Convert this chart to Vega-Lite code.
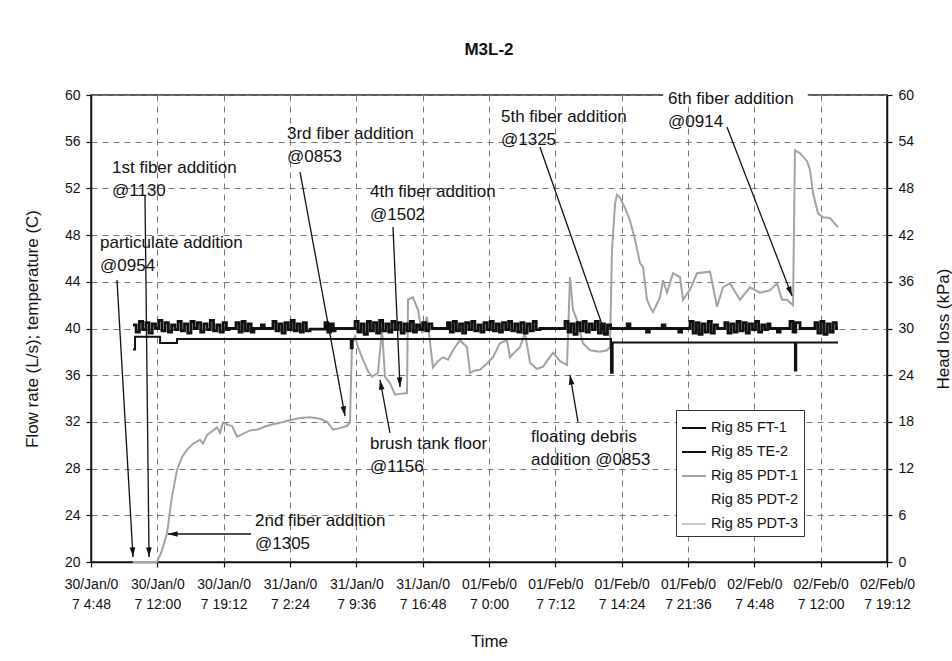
{
  "$schema": "https://vega.github.io/schema/vega-lite/v6.json",
  "width": 796,
  "height": 467,
  "autosize": {"type": "none"},
  "padding": {"left": 91, "top": 95, "right": 65, "bottom": 99},
  "background": "white",
  "title": {"text": "M3L-2", "fontSize": 17, "fontWeight": "bold", "font": "Liberation Sans", "offset": 29, "frame": "group", "anchor": "middle", "color": "#111"},
  "config": {
    "font": "Liberation Sans",
    "view": {"stroke": "#222", "strokeWidth": 1.5},
    "axis": {
      "labelFont": "Liberation Sans", "labelFontSize": 14, "labelColor": "#111",
      "titleFont": "Liberation Sans", "titleFontSize": 17, "titleFontWeight": "normal", "titleColor": "#111",
      "domainColor": "#111", "domainWidth": 1.5, "tickColor": "#111", "tickSize": 5, "tickWidth": 1.2,
      "gridColor": "#777", "gridDash": [6, 5], "gridWidth": 1
    }
  },
  "datasets": {
    "black": [
      {"series": "Rig 85 FT-1", "t": 4.56, "v": 40.3}, {"series": "Rig 85 FT-1", "t": 4.9, "v": 39.7}, {"series": "Rig 85 FT-1", "t": 5.25, "v": 40.6}, {"series": "Rig 85 FT-1", "t": 5.6, "v": 39.9}, {"series": "Rig 85 FT-1", "t": 5.95, "v": 40.5}, {"series": "Rig 85 FT-1", "t": 6.3, "v": 39.6}, {"series": "Rig 85 FT-1", "t": 6.65, "v": 40.4}, {"series": "Rig 85 FT-1", "t": 7.0, "v": 40.0}, {"series": "Rig 85 FT-1", "t": 7.35, "v": 40.7}, {"series": "Rig 85 FT-1", "t": 7.7, "v": 39.8},
      {"series": "Rig 85 FT-1", "t": 8.05, "v": 40.5}, {"series": "Rig 85 FT-1", "t": 8.4, "v": 39.7}, {"series": "Rig 85 FT-1", "t": 8.75, "v": 40.3}, {"series": "Rig 85 FT-1", "t": 9.1, "v": 39.9}, {"series": "Rig 85 FT-1", "t": 9.45, "v": 40.6}, {"series": "Rig 85 FT-1", "t": 9.8, "v": 39.8}, {"series": "Rig 85 FT-1", "t": 10.15, "v": 40.4}, {"series": "Rig 85 FT-1", "t": 10.5, "v": 39.6}, {"series": "Rig 85 FT-1", "t": 10.85, "v": 40.6}, {"series": "Rig 85 FT-1", "t": 11.2, "v": 40.0},
      {"series": "Rig 85 FT-1", "t": 11.55, "v": 40.5}, {"series": "Rig 85 FT-1", "t": 11.9, "v": 39.7}, {"series": "Rig 85 FT-1", "t": 12.25, "v": 40.4}, {"series": "Rig 85 FT-1", "t": 12.6, "v": 39.9}, {"series": "Rig 85 FT-1", "t": 12.95, "v": 40.7}, {"series": "Rig 85 FT-1", "t": 13.3, "v": 39.8}, {"series": "Rig 85 FT-1", "t": 13.65, "v": 40.3}, {"series": "Rig 85 FT-1", "t": 14.0, "v": 39.7}, {"series": "Rig 85 FT-1", "t": 14.35, "v": 40.5}, {"series": "Rig 85 FT-1", "t": 14.7, "v": 39.9},
      {"series": "Rig 85 FT-1", "t": 14.98, "v": 40.0}, {"series": "Rig 85 FT-1", "t": 15.74, "v": 40.5}, {"series": "Rig 85 FT-1", "t": 16.07, "v": 39.7}, {"series": "Rig 85 FT-1", "t": 16.4, "v": 40.6}, {"series": "Rig 85 FT-1", "t": 16.73, "v": 39.8}, {"series": "Rig 85 FT-1", "t": 17.06, "v": 40.4}, {"series": "Rig 85 FT-1", "t": 17.39, "v": 39.7}, {"series": "Rig 85 FT-1", "t": 17.69, "v": 40.0}, {"series": "Rig 85 FT-1", "t": 18.5, "v": 40.3}, {"series": "Rig 85 FT-1", "t": 18.8, "v": 40.0},
      {"series": "Rig 85 FT-1", "t": 19.75, "v": 40.6}, {"series": "Rig 85 FT-1", "t": 20.08, "v": 39.8}, {"series": "Rig 85 FT-1", "t": 20.41, "v": 40.4}, {"series": "Rig 85 FT-1", "t": 20.74, "v": 39.6}, {"series": "Rig 85 FT-1", "t": 21.07, "v": 40.5}, {"series": "Rig 85 FT-1", "t": 21.4, "v": 39.9}, {"series": "Rig 85 FT-1", "t": 21.73, "v": 40.7}, {"series": "Rig 85 FT-1", "t": 22.06, "v": 39.8}, {"series": "Rig 85 FT-1", "t": 22.39, "v": 40.4}, {"series": "Rig 85 FT-1", "t": 22.72, "v": 39.7},
      {"series": "Rig 85 FT-1", "t": 23.05, "v": 40.5}, {"series": "Rig 85 FT-1", "t": 23.38, "v": 39.8}, {"series": "Rig 85 FT-1", "t": 23.77, "v": 39.95}, {"series": "Rig 85 FT-1", "t": 25.4, "v": 40.5}, {"series": "Rig 85 FT-1", "t": 25.7, "v": 39.7}, {"series": "Rig 85 FT-1", "t": 26.0, "v": 40.4}, {"series": "Rig 85 FT-1", "t": 26.3, "v": 39.8}, {"series": "Rig 85 FT-1", "t": 26.5, "v": 40.0}, {"series": "Rig 85 FT-1", "t": 28.66, "v": 40.6}, {"series": "Rig 85 FT-1", "t": 29.0, "v": 39.7},
      {"series": "Rig 85 FT-1", "t": 29.33, "v": 40.4}, {"series": "Rig 85 FT-1", "t": 29.66, "v": 39.5}, {"series": "Rig 85 FT-1", "t": 30.0, "v": 40.6}, {"series": "Rig 85 FT-1", "t": 30.33, "v": 39.8}, {"series": "Rig 85 FT-1", "t": 30.66, "v": 40.5}, {"series": "Rig 85 FT-1", "t": 31.0, "v": 39.6}, {"series": "Rig 85 FT-1", "t": 31.33, "v": 40.7}, {"series": "Rig 85 FT-1", "t": 31.66, "v": 39.8}, {"series": "Rig 85 FT-1", "t": 32.0, "v": 40.4}, {"series": "Rig 85 FT-1", "t": 32.33, "v": 39.7},
      {"series": "Rig 85 FT-1", "t": 32.66, "v": 40.6}, {"series": "Rig 85 FT-1", "t": 33.0, "v": 39.9}, {"series": "Rig 85 FT-1", "t": 33.33, "v": 40.5}, {"series": "Rig 85 FT-1", "t": 33.66, "v": 39.6}, {"series": "Rig 85 FT-1", "t": 34.0, "v": 40.4}, {"series": "Rig 85 FT-1", "t": 34.33, "v": 39.8}, {"series": "Rig 85 FT-1", "t": 34.66, "v": 40.6}, {"series": "Rig 85 FT-1", "t": 35.0, "v": 39.7}, {"series": "Rig 85 FT-1", "t": 35.33, "v": 40.3}, {"series": "Rig 85 FT-1", "t": 35.66, "v": 39.9},
      {"series": "Rig 85 FT-1", "t": 36.0, "v": 40.5}, {"series": "Rig 85 FT-1", "t": 36.33, "v": 39.8}, {"series": "Rig 85 FT-1", "t": 36.66, "v": 40.4}, {"series": "Rig 85 FT-1", "t": 37.0, "v": 40.0}, {"series": "Rig 85 FT-1", "t": 38.7, "v": 40.5}, {"series": "Rig 85 FT-1", "t": 39.0, "v": 39.7}, {"series": "Rig 85 FT-1", "t": 39.33, "v": 40.6}, {"series": "Rig 85 FT-1", "t": 39.66, "v": 39.8}, {"series": "Rig 85 FT-1", "t": 40.0, "v": 40.4}, {"series": "Rig 85 FT-1", "t": 40.33, "v": 39.6},
      {"series": "Rig 85 FT-1", "t": 40.66, "v": 40.5}, {"series": "Rig 85 FT-1", "t": 41.0, "v": 39.9}, {"series": "Rig 85 FT-1", "t": 41.33, "v": 40.6}, {"series": "Rig 85 FT-1", "t": 41.66, "v": 39.8}, {"series": "Rig 85 FT-1", "t": 42.0, "v": 40.3}, {"series": "Rig 85 FT-1", "t": 42.33, "v": 39.7}, {"series": "Rig 85 FT-1", "t": 42.66, "v": 40.5}, {"series": "Rig 85 FT-1", "t": 43.0, "v": 39.9}, {"series": "Rig 85 FT-1", "t": 43.33, "v": 40.6}, {"series": "Rig 85 FT-1", "t": 43.66, "v": 39.8},
      {"series": "Rig 85 FT-1", "t": 44.0, "v": 40.4}, {"series": "Rig 85 FT-1", "t": 44.33, "v": 39.7}, {"series": "Rig 85 FT-1", "t": 44.66, "v": 40.5}, {"series": "Rig 85 FT-1", "t": 45.0, "v": 39.9}, {"series": "Rig 85 FT-1", "t": 45.33, "v": 40.6}, {"series": "Rig 85 FT-1", "t": 45.66, "v": 39.8}, {"series": "Rig 85 FT-1", "t": 46.0, "v": 40.4}, {"series": "Rig 85 FT-1", "t": 46.33, "v": 39.7}, {"series": "Rig 85 FT-1", "t": 46.66, "v": 40.5}, {"series": "Rig 85 FT-1", "t": 47.0, "v": 39.6},
      {"series": "Rig 85 FT-1", "t": 47.33, "v": 40.4}, {"series": "Rig 85 FT-1", "t": 47.66, "v": 39.8}, {"series": "Rig 85 FT-1", "t": 48.0, "v": 40.6}, {"series": "Rig 85 FT-1", "t": 48.33, "v": 39.9}, {"series": "Rig 85 FT-1", "t": 48.74, "v": 40.0}, {"series": "Rig 85 FT-1", "t": 51.45, "v": 40.6}, {"series": "Rig 85 FT-1", "t": 51.78, "v": 39.7}, {"series": "Rig 85 FT-1", "t": 52.1, "v": 40.4}, {"series": "Rig 85 FT-1", "t": 52.43, "v": 39.5}, {"series": "Rig 85 FT-1", "t": 52.76, "v": 40.5},
      {"series": "Rig 85 FT-1", "t": 53.09, "v": 39.8}, {"series": "Rig 85 FT-1", "t": 53.42, "v": 40.6}, {"series": "Rig 85 FT-1", "t": 53.75, "v": 39.7}, {"series": "Rig 85 FT-1", "t": 54.08, "v": 40.4}, {"series": "Rig 85 FT-1", "t": 54.41, "v": 39.9}, {"series": "Rig 85 FT-1", "t": 54.74, "v": 40.6}, {"series": "Rig 85 FT-1", "t": 55.07, "v": 39.6}, {"series": "Rig 85 FT-1", "t": 55.4, "v": 40.4}, {"series": "Rig 85 FT-1", "t": 55.73, "v": 39.5}, {"series": "Rig 85 FT-1", "t": 56.06, "v": 40.3},
      {"series": "Rig 85 FT-1", "t": 56.4, "v": 40.0}, {"series": "Rig 85 FT-1", "t": 58.2, "v": 40.4}, {"series": "Rig 85 FT-1", "t": 58.5, "v": 40.0}, {"series": "Rig 85 FT-1", "t": 60.3, "v": 39.7}, {"series": "Rig 85 FT-1", "t": 60.6, "v": 40.0}, {"series": "Rig 85 FT-1", "t": 62.0, "v": 40.3}, {"series": "Rig 85 FT-1", "t": 62.3, "v": 40.0}, {"series": "Rig 85 FT-1", "t": 63.8, "v": 39.7}, {"series": "Rig 85 FT-1", "t": 64.1, "v": 40.0}, {"series": "Rig 85 FT-1", "t": 65.02, "v": 40.6},
      {"series": "Rig 85 FT-1", "t": 65.35, "v": 39.6}, {"series": "Rig 85 FT-1", "t": 65.68, "v": 40.5}, {"series": "Rig 85 FT-1", "t": 66.0, "v": 39.5}, {"series": "Rig 85 FT-1", "t": 66.33, "v": 40.4}, {"series": "Rig 85 FT-1", "t": 66.66, "v": 39.7}, {"series": "Rig 85 FT-1", "t": 67.0, "v": 40.6}, {"series": "Rig 85 FT-1", "t": 67.33, "v": 39.6}, {"series": "Rig 85 FT-1", "t": 67.66, "v": 40.3}, {"series": "Rig 85 FT-1", "t": 68.0, "v": 40.0}, {"series": "Rig 85 FT-1", "t": 68.8, "v": 40.5},
      {"series": "Rig 85 FT-1", "t": 69.13, "v": 39.6}, {"series": "Rig 85 FT-1", "t": 69.46, "v": 40.4}, {"series": "Rig 85 FT-1", "t": 69.8, "v": 39.7}, {"series": "Rig 85 FT-1", "t": 70.13, "v": 40.6}, {"series": "Rig 85 FT-1", "t": 70.46, "v": 39.8}, {"series": "Rig 85 FT-1", "t": 70.8, "v": 40.5}, {"series": "Rig 85 FT-1", "t": 71.13, "v": 39.6}, {"series": "Rig 85 FT-1", "t": 71.46, "v": 40.4}, {"series": "Rig 85 FT-1", "t": 71.8, "v": 39.9}, {"series": "Rig 85 FT-1", "t": 72.13, "v": 40.6},
      {"series": "Rig 85 FT-1", "t": 72.46, "v": 39.7}, {"series": "Rig 85 FT-1", "t": 72.8, "v": 40.3}, {"series": "Rig 85 FT-1", "t": 73.13, "v": 39.9}, {"series": "Rig 85 FT-1", "t": 73.46, "v": 40.4}, {"series": "Rig 85 FT-1", "t": 73.7, "v": 40.0}, {"series": "Rig 85 FT-1", "t": 74.5, "v": 39.7}, {"series": "Rig 85 FT-1", "t": 74.8, "v": 40.0}, {"series": "Rig 85 FT-1", "t": 75.87, "v": 40.6}, {"series": "Rig 85 FT-1", "t": 76.2, "v": 39.7}, {"series": "Rig 85 FT-1", "t": 76.5, "v": 40.5},
      {"series": "Rig 85 FT-1", "t": 76.96, "v": 40.0}, {"series": "Rig 85 FT-1", "t": 78.58, "v": 40.5}, {"series": "Rig 85 FT-1", "t": 78.9, "v": 39.6}, {"series": "Rig 85 FT-1", "t": 79.23, "v": 40.6}, {"series": "Rig 85 FT-1", "t": 79.56, "v": 39.5}, {"series": "Rig 85 FT-1", "t": 79.9, "v": 40.4}, {"series": "Rig 85 FT-1", "t": 80.23, "v": 39.7}, {"series": "Rig 85 FT-1", "t": 80.56, "v": 40.5}, {"series": "Rig 85 FT-1", "t": 80.9, "v": 40.0}, {"series": "Rig 85 FT-1", "t": 81.08, "v": 40.0},
      {"series": "Rig 85 TE-2", "t": 4.56, "v": 38.2}, {"series": "Rig 85 TE-2", "t": 4.78, "v": 39.3}, {"series": "Rig 85 TE-2", "t": 7.5, "v": 38.75}, {"series": "Rig 85 TE-2", "t": 9.34, "v": 39.1}, {"series": "Rig 85 TE-2", "t": 28.2, "v": 38.3}, {"series": "Rig 85 TE-2", "t": 28.4, "v": 39.1}, {"series": "Rig 85 TE-2", "t": 56.44, "v": 36.2}, {"series": "Rig 85 TE-2", "t": 56.62, "v": 38.8}, {"series": "Rig 85 TE-2", "t": 76.41, "v": 36.4}, {"series": "Rig 85 TE-2", "t": 76.55, "v": 38.8}, {"series": "Rig 85 TE-2", "t": 81.08, "v": 38.8}
    ],
    "gray": [
      {"series": "Rig 85 PDT-3", "t": 4.56, "kpa": 0}, {"series": "Rig 85 PDT-3", "t": 7.16, "kpa": 0},
      {"series": "Rig 85 PDT-1", "t": 4.56, "kpa": 0}, {"series": "Rig 85 PDT-1", "t": 7.16, "kpa": 0}, {"series": "Rig 85 PDT-1", "t": 7.71, "kpa": 1.5}, {"series": "Rig 85 PDT-1", "t": 8.25, "kpa": 3.7}, {"series": "Rig 85 PDT-1", "t": 8.79, "kpa": 8.4}, {"series": "Rig 85 PDT-1", "t": 9.33, "kpa": 11.8}, {"series": "Rig 85 PDT-1", "t": 9.88, "kpa": 13.5}, {"series": "Rig 85 PDT-1", "t": 10.42, "kpa": 14.4}, {"series": "Rig 85 PDT-1", "t": 11.07, "kpa": 15.2}, {"series": "Rig 85 PDT-1", "t": 11.83, "kpa": 15.7},
      {"series": "Rig 85 PDT-1", "t": 12.16, "kpa": 15.2}, {"series": "Rig 85 PDT-1", "t": 12.59, "kpa": 16.3}, {"series": "Rig 85 PDT-1", "t": 13.13, "kpa": 16.8}, {"series": "Rig 85 PDT-1", "t": 13.68, "kpa": 17.3}, {"series": "Rig 85 PDT-1", "t": 14.0, "kpa": 16.6}, {"series": "Rig 85 PDT-1", "t": 14.33, "kpa": 17.9}, {"series": "Rig 85 PDT-1", "t": 14.87, "kpa": 17.6}, {"series": "Rig 85 PDT-1", "t": 15.3, "kpa": 17.5}, {"series": "Rig 85 PDT-1", "t": 15.85, "kpa": 16.1}, {"series": "Rig 85 PDT-1", "t": 16.39, "kpa": 16.4},
      {"series": "Rig 85 PDT-1", "t": 17.26, "kpa": 16.9}, {"series": "Rig 85 PDT-1", "t": 18.02, "kpa": 17.0}, {"series": "Rig 85 PDT-1", "t": 18.89, "kpa": 17.4}, {"series": "Rig 85 PDT-1", "t": 19.75, "kpa": 17.7}, {"series": "Rig 85 PDT-1", "t": 20.51, "kpa": 17.9}, {"series": "Rig 85 PDT-1", "t": 21.6, "kpa": 18.2}, {"series": "Rig 85 PDT-1", "t": 22.69, "kpa": 18.5}, {"series": "Rig 85 PDT-1", "t": 23.77, "kpa": 18.6}, {"series": "Rig 85 PDT-1", "t": 24.86, "kpa": 18.4}, {"series": "Rig 85 PDT-1", "t": 25.62, "kpa": 18.0},
      {"series": "Rig 85 PDT-1", "t": 26.27, "kpa": 17.0}, {"series": "Rig 85 PDT-1", "t": 27.03, "kpa": 17.2}, {"series": "Rig 85 PDT-1", "t": 27.79, "kpa": 17.5}, {"series": "Rig 85 PDT-1", "t": 28.11, "kpa": 17.9}, {"series": "Rig 85 PDT-1", "t": 28.33, "kpa": 28.0}, {"series": "Rig 85 PDT-1", "t": 28.66, "kpa": 29.0}, {"series": "Rig 85 PDT-1", "t": 28.98, "kpa": 27.6}, {"series": "Rig 85 PDT-1", "t": 29.52, "kpa": 26.0}, {"series": "Rig 85 PDT-1", "t": 30.07, "kpa": 24.5}, {"series": "Rig 85 PDT-1", "t": 30.5, "kpa": 23.8},
      {"series": "Rig 85 PDT-1", "t": 31.15, "kpa": 24.3}, {"series": "Rig 85 PDT-1", "t": 31.59, "kpa": 29.8}, {"series": "Rig 85 PDT-1", "t": 31.91, "kpa": 23.8}, {"series": "Rig 85 PDT-1", "t": 32.45, "kpa": 23.0}, {"series": "Rig 85 PDT-1", "t": 33.0, "kpa": 21.5}, {"series": "Rig 85 PDT-1", "t": 33.54, "kpa": 21.6}, {"series": "Rig 85 PDT-1", "t": 34.3, "kpa": 21.7}, {"series": "Rig 85 PDT-1", "t": 34.41, "kpa": 33.7}, {"series": "Rig 85 PDT-1", "t": 34.95, "kpa": 34.0}, {"series": "Rig 85 PDT-1", "t": 35.49, "kpa": 32.4},
      {"series": "Rig 85 PDT-1", "t": 35.93, "kpa": 29.4}, {"series": "Rig 85 PDT-1", "t": 36.47, "kpa": 31.5}, {"series": "Rig 85 PDT-1", "t": 37.12, "kpa": 25.0}, {"series": "Rig 85 PDT-1", "t": 37.66, "kpa": 25.8}, {"series": "Rig 85 PDT-1", "t": 38.21, "kpa": 26.3}, {"series": "Rig 85 PDT-1", "t": 38.75, "kpa": 26.0}, {"series": "Rig 85 PDT-1", "t": 39.29, "kpa": 27.2}, {"series": "Rig 85 PDT-1", "t": 40.05, "kpa": 28.5}, {"series": "Rig 85 PDT-1", "t": 40.81, "kpa": 27.6}, {"series": "Rig 85 PDT-1", "t": 41.14, "kpa": 24.3},
      {"series": "Rig 85 PDT-1", "t": 41.68, "kpa": 24.6}, {"series": "Rig 85 PDT-1", "t": 42.22, "kpa": 24.7}, {"series": "Rig 85 PDT-1", "t": 42.98, "kpa": 25.5}, {"series": "Rig 85 PDT-1", "t": 43.63, "kpa": 26.3}, {"series": "Rig 85 PDT-1", "t": 44.39, "kpa": 28.1}, {"series": "Rig 85 PDT-1", "t": 45.15, "kpa": 28.5}, {"series": "Rig 85 PDT-1", "t": 45.48, "kpa": 26.3}, {"series": "Rig 85 PDT-1", "t": 46.02, "kpa": 27.0}, {"series": "Rig 85 PDT-1", "t": 46.56, "kpa": 27.6}, {"series": "Rig 85 PDT-1", "t": 47.11, "kpa": 29.4},
      {"series": "Rig 85 PDT-1", "t": 47.65, "kpa": 25.6}, {"series": "Rig 85 PDT-1", "t": 48.41, "kpa": 24.8}, {"series": "Rig 85 PDT-1", "t": 49.06, "kpa": 25.1}, {"series": "Rig 85 PDT-1", "t": 49.6, "kpa": 26.0}, {"series": "Rig 85 PDT-1", "t": 50.15, "kpa": 26.9}, {"series": "Rig 85 PDT-1", "t": 50.91, "kpa": 25.8}, {"series": "Rig 85 PDT-1", "t": 51.67, "kpa": 25.3}, {"series": "Rig 85 PDT-1", "t": 51.99, "kpa": 36.6}, {"series": "Rig 85 PDT-1", "t": 52.32, "kpa": 32.4}, {"series": "Rig 85 PDT-1", "t": 52.75, "kpa": 31.1},
      {"series": "Rig 85 PDT-1", "t": 53.4, "kpa": 28.1}, {"series": "Rig 85 PDT-1", "t": 54.16, "kpa": 27.2}, {"series": "Rig 85 PDT-1", "t": 55.25, "kpa": 27.0}, {"series": "Rig 85 PDT-1", "t": 56.01, "kpa": 27.2}, {"series": "Rig 85 PDT-1", "t": 56.33, "kpa": 27.6}, {"series": "Rig 85 PDT-1", "t": 56.55, "kpa": 40.0}, {"series": "Rig 85 PDT-1", "t": 56.88, "kpa": 46.0}, {"series": "Rig 85 PDT-1", "t": 57.09, "kpa": 47.2}, {"series": "Rig 85 PDT-1", "t": 57.42, "kpa": 46.8}, {"series": "Rig 85 PDT-1", "t": 57.96, "kpa": 45.5},
      {"series": "Rig 85 PDT-1", "t": 58.5, "kpa": 43.9}, {"series": "Rig 85 PDT-1", "t": 59.05, "kpa": 41.4}, {"series": "Rig 85 PDT-1", "t": 59.59, "kpa": 38.4}, {"series": "Rig 85 PDT-1", "t": 59.92, "kpa": 37.9}, {"series": "Rig 85 PDT-1", "t": 60.35, "kpa": 33.7}, {"series": "Rig 85 PDT-1", "t": 60.68, "kpa": 32.8}, {"series": "Rig 85 PDT-1", "t": 61.0, "kpa": 32.1}, {"series": "Rig 85 PDT-1", "t": 61.76, "kpa": 34.0}, {"series": "Rig 85 PDT-1", "t": 62.09, "kpa": 36.2}, {"series": "Rig 85 PDT-1", "t": 62.52, "kpa": 34.6},
      {"series": "Rig 85 PDT-1", "t": 63.17, "kpa": 37.1}, {"series": "Rig 85 PDT-1", "t": 63.93, "kpa": 36.6}, {"series": "Rig 85 PDT-1", "t": 64.26, "kpa": 33.7}, {"series": "Rig 85 PDT-1", "t": 65.02, "kpa": 35.0}, {"series": "Rig 85 PDT-1", "t": 65.78, "kpa": 37.1}, {"series": "Rig 85 PDT-1", "t": 67.19, "kpa": 37.3}, {"series": "Rig 85 PDT-1", "t": 67.95, "kpa": 32.8}, {"series": "Rig 85 PDT-1", "t": 68.6, "kpa": 35.3}, {"series": "Rig 85 PDT-1", "t": 69.36, "kpa": 35.8}, {"series": "Rig 85 PDT-1", "t": 70.44, "kpa": 33.7},
      {"series": "Rig 85 PDT-1", "t": 71.53, "kpa": 35.3}, {"series": "Rig 85 PDT-1", "t": 72.61, "kpa": 34.6}, {"series": "Rig 85 PDT-1", "t": 73.7, "kpa": 34.9}, {"series": "Rig 85 PDT-1", "t": 74.46, "kpa": 35.8}, {"series": "Rig 85 PDT-1", "t": 75.0, "kpa": 33.7}, {"series": "Rig 85 PDT-1", "t": 75.55, "kpa": 33.7}, {"series": "Rig 85 PDT-1", "t": 76.2, "kpa": 33.0}, {"series": "Rig 85 PDT-1", "t": 76.41, "kpa": 52.9}, {"series": "Rig 85 PDT-1", "t": 76.96, "kpa": 52.5}, {"series": "Rig 85 PDT-1", "t": 77.72, "kpa": 51.5},
      {"series": "Rig 85 PDT-1", "t": 78.04, "kpa": 50.4}, {"series": "Rig 85 PDT-1", "t": 78.37, "kpa": 47.4}, {"series": "Rig 85 PDT-1", "t": 78.91, "kpa": 44.8}, {"series": "Rig 85 PDT-1", "t": 79.45, "kpa": 44.3}, {"series": "Rig 85 PDT-1", "t": 80.21, "kpa": 44.2}, {"series": "Rig 85 PDT-1", "t": 80.65, "kpa": 43.6}, {"series": "Rig 85 PDT-1", "t": 81.08, "kpa": 43.0}
    ],
    "notes": [
      {"label": "particulate addition\n@0954", "t": 0.98, "v": 46.89},
      {"label": "1st fiber addition\n@1130", "t": 2.28, "v": 53.32},
      {"label": "2nd fiber addition\n@1305", "t": 17.8, "v": 23.08},
      {"label": "3rd fiber addition\n@0853", "t": 21.27, "v": 56.23},
      {"label": "4th fiber addition\n@1502", "t": 30.28, "v": 51.26},
      {"label": "brush tank floor\n@1156", "t": 30.28, "v": 29.68},
      {"label": "5th fiber addition\n@1325", "t": 44.5, "v": 57.69},
      {"label": "floating debris\naddition @0853", "t": 47.76, "v": 30.28},
      {"label": "6th fiber addition\n@0914", "t": 62.63, "v": 59.23}
    ],
    "arrows": [
      {"t": 2.82, "v": 44.15, "t2": 4.56, "v2": 20.43},
      {"t": 5.86, "v": 51.43, "t2": 6.3, "v2": 20.43},
      {"t": 17.37, "v": 22.4, "t2": 8.36, "v2": 22.4},
      {"t": 22.69, "v": 53.4, "t2": 27.57, "v2": 32.51},
      {"t": 32.78, "v": 48.69, "t2": 33.54, "v2": 34.99},
      {"t": 32.45, "v": 31.05, "t2": 31.37, "v2": 35.59},
      {"t": 48.73, "v": 55.55, "t2": 55.79, "v2": 39.61},
      {"t": 52.86, "v": 32.0, "t2": 51.99, "v2": 36.02},
      {"t": 69.03, "v": 57.26, "t2": 76.09, "v2": 42.78}
    ],
    "mask": [{"t": 62.1, "t2": 77.8, "v": 59.45, "v2": 60.5}]
  },
  "layer": [
    {
      "layer": [
        {
          "data": {"name": "gray"},
          "mark": {"type": "line", "strokeWidth": 2},
          "encoding": {
            "x": {"field": "t", "type": "quantitative", "title": "Time"},
            "y": {"field": "kpa", "type": "quantitative", "scale": {"domain": [0, 60], "nice": false, "zero": false},
              "axis": {"orient": "right", "values": [0, 6, 12, 18, 24, 30, 36, 42, 48, 54, 60], "grid": false, "labelPadding": 6,
                "title": "Head loss (kPa)", "titleAngle": 270, "titleX": 56, "titleY": 233.5, "titleBaseline": "middle", "titleAnchor": "middle"}},
            "color": {"field": "series", "type": "nominal",
              "scale": {"domain": ["Rig 85 FT-1", "Rig 85 TE-2", "Rig 85 PDT-1", "Rig 85 PDT-2", "Rig 85 PDT-3"], "range": ["#111111", "#111111", "#a2a2a2", "#ffffff", "#c6c6c6"]},
              "legend": {"title": null, "orient": "none", "legendX": 585, "legendY": 315, "fillColor": "white", "strokeColor": "#333", "padding": 5,
                "symbolType": "stroke", "symbolSize": 576, "symbolStrokeWidth": 2, "labelFontSize": 14.5, "labelFont": "Liberation Sans", "labelColor": "#111", "labelOffset": 4, "rowPadding": 4}}
          }
        }
      ]
    },
    {
      "layer": [
        {
          "data": {"name": "black"},
          "mark": {"type": "line", "interpolate": "step-after"},
          "encoding": {
            "x": {"field": "t", "type": "quantitative", "title": "Time", "scale": {"domain": [0, 86.4], "nice": false, "zero": false},
              "axis": {"values": [0, 7.2, 14.4, 21.6, 28.8, 36, 43.2, 50.4, 57.6, 64.8, 72, 79.2, 86.4],
                "labelExpr": "[timeFormat(time(datetime(2007,0,30,4,48)) + round(datum.value*60)*60000, '%d/%b/0'), '7 ' + timeFormat(time(datetime(2007,0,30,4,48)) + round(datum.value*60)*60000, '%-H:%M')]",
                "labelLineHeight": 20, "labelPadding": 10, "labelBaseline": "top", "labelOverlap": false, "labelFlush": false,
                "grid": true, "title": "Time", "titleX": 398, "titleY": 84, "titleBaseline": "alphabetic", "orient": "bottom"}},
            "y": {"field": "v", "type": "quantitative", "title": "Flow rate (L/s); temperature (C)", "scale": {"domain": [20, 60], "nice": false, "zero": false},
              "axis": {"orient": "left", "values": [20, 24, 28, 32, 36, 40, 44, 48, 52, 56, 60], "grid": true, "labelPadding": 6,
                "title": "Flow rate (L/s); temperature (C)", "titleX": -59, "titleY": 233.5, "titleBaseline": "middle", "titleAnchor": "middle"}},
            "color": {"field": "series", "type": "nominal"},
            "strokeWidth": {"field": "series", "type": "nominal", "scale": {"domain": ["Rig 85 FT-1", "Rig 85 TE-2"], "range": [2.8, 2]}, "legend": null}
          }
        },
        {
          "data": {"name": "mask"},
          "mark": {"type": "rect", "fill": "white", "stroke": null},
          "encoding": {
            "x": {"field": "t", "type": "quantitative", "title": "Time"},
            "x2": {"field": "t2"},
            "y": {"field": "v", "type": "quantitative", "title": "Flow rate (L/s); temperature (C)"},
            "y2": {"field": "v2"}
          }
        },
        {
          "data": {"name": "arrows"},
          "mark": {"type": "rule", "color": "#111", "strokeWidth": 1.3},
          "encoding": {
            "x": {"field": "t", "type": "quantitative", "title": "Time"},
            "x2": {"field": "t2"},
            "y": {"field": "v", "type": "quantitative", "title": "Flow rate (L/s); temperature (C)"},
            "y2": {"field": "v2"}
          }
        },
        {
          "data": {"name": "arrows"},
          "transform": [{"calculate": "atan2((datum.t2 - datum.t) * 9.213, (datum.v2 - datum.v) * 11.675) * 180 / PI", "as": "ang"}],
          "mark": {"type": "point", "shape": "M0,0L0.7,2.4L-0.7,2.4Z", "filled": true, "fill": "#111", "stroke": null, "opacity": 1, "size": 64},
          "encoding": {
            "x": {"field": "t2", "type": "quantitative", "title": "Time"},
            "y": {"field": "v2", "type": "quantitative", "title": "Flow rate (L/s); temperature (C)"},
            "angle": {"field": "ang", "type": "quantitative", "scale": null}
          }
        },
        {
          "data": {"name": "notes"},
          "mark": {"type": "text", "align": "left", "baseline": "alphabetic", "lineBreak": "\n", "lineHeight": 23, "fontSize": 17, "font": "Liberation Sans", "color": "#111"},
          "encoding": {
            "x": {"field": "t", "type": "quantitative", "title": "Time"},
            "y": {"field": "v", "type": "quantitative", "title": "Flow rate (L/s); temperature (C)"},
            "text": {"field": "label"}
          }
        }
      ]
    }
  ],
  "resolve": {"scale": {"y": "independent"}}
}
